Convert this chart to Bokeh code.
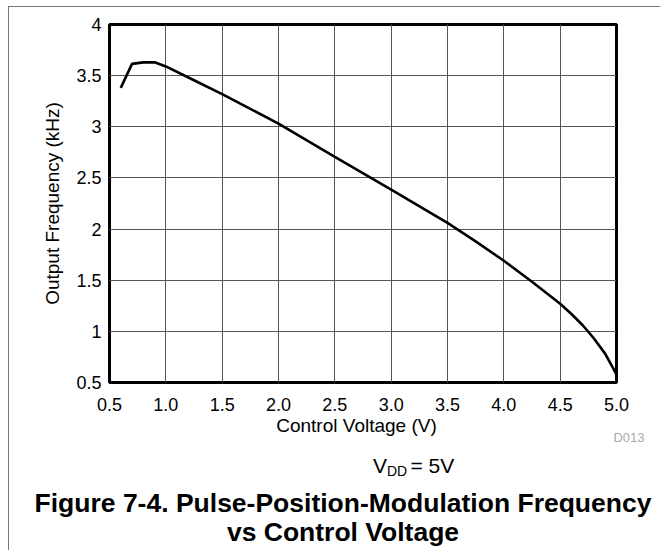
from bokeh.plotting import figure
from bokeh.models import Range1d, FixedTicker, Label
from bokeh.embed import file_html
from bokeh.resources import INLINE

# ---- data ----
control_voltage = [0.6, 0.7, 0.8, 0.9, 1.0, 1.25, 1.5, 1.75, 2.0, 2.5, 3.0, 3.5,
                   3.75, 4.0, 4.25, 4.5, 4.6, 4.7, 4.8, 4.9, 5.0]
output_freq_khz = [3.38, 3.615, 3.63, 3.63, 3.59, 3.455, 3.32, 3.175, 3.03, 2.705,
                   2.385, 2.06, 1.88, 1.69, 1.485, 1.27, 1.17, 1.06, 0.93, 0.78, 0.58]

x_ticks = [0.5, 1.0, 1.5, 2.0, 2.5, 3.0, 3.5, 4.0, 4.5, 5.0]
x_tick_labels = ["0.5", "1.0", "1.5", "2.0", "2.5", "3.0", "3.5", "4.0", "4.5", "5.0"]
y_ticks = [0.5, 1.0, 1.5, 2.0, 2.5, 3.0, 3.5, 4.0]
y_tick_labels = ["0.5", "1", "1.5", "2", "2.5", "3", "3.5", "4"]

x_title = "Control Voltage (V)"
y_title = "Output Frequency (kHz)"
figure_id = "D013"
caption_lines = ["Figure 7-4. Pulse-Position-Modulation Frequency", "vs Control Voltage"]

FONT = "Liberation Sans"
W = 651

# ---- main chart ----
p = figure(output_backend="svg", toolbar_location=None,
           x_range=Range1d(0.5, 5.0), y_range=Range1d(0.5, 4.0),
           frame_width=507, frame_height=358,
           min_border_left=100, min_border_top=17, min_border_right=44,
           min_border_bottom=34)
p.styles = {"position": "absolute", "left": "8px", "top": "6px",
            "border-left": "1px solid #777", "border-top": "1px solid #777"}

p.outline_line_color = "black"
p.outline_line_width = 3

p.xaxis.ticker = FixedTicker(ticks=x_ticks)
p.yaxis.ticker = FixedTicker(ticks=y_ticks)
p.xaxis.major_label_overrides = dict(zip(x_ticks, x_tick_labels))
p.yaxis.major_label_overrides = dict(zip(y_ticks, y_tick_labels))

for ax in (p.xaxis, p.yaxis):
    ax.axis_line_color = None
    ax.major_tick_line_color = None
    ax.minor_tick_line_color = None
    ax.major_tick_out = 0
    ax.major_tick_in = 0
    ax.major_label_text_font = FONT
    ax.major_label_text_font_size = "18px"
    ax.major_label_text_color = "black"
    ax.axis_label_text_font = FONT
    ax.axis_label_text_font_size = "19px"
    ax.axis_label_text_font_style = "normal"
    ax.axis_label_text_color = "black"

p.xaxis.major_label_standoff = 15
p.yaxis.major_label_standoff = 8
p.yaxis.axis_label = y_title
p.yaxis.axis_label_standoff = 10

p.xgrid.ticker = FixedTicker(ticks=x_ticks)
p.ygrid.ticker = FixedTicker(ticks=y_ticks)
p.grid.grid_line_color = "#555555"
p.grid.grid_line_width = 1

p.line(control_voltage, output_freq_khz, line_color="black", line_width=2.6)

# ---- caption panel (pixel coordinates, y downward), placed absolutely ----
TOP = 400
H2 = 150
c = figure(output_backend="svg", toolbar_location=None,
           x_range=Range1d(0, W), y_range=Range1d(H2, 0),
           frame_width=W, frame_height=H2,
           min_border_left=0, min_border_right=0, min_border_top=0, min_border_bottom=0,
           x_axis_type=None, y_axis_type=None)
c.outline_line_color = None
c.grid.visible = False
c.background_fill_color = None
c.border_fill_color = None
c.styles = {"position": "absolute", "left": "8px", "top": f"{TOP}px",
            "border-left": "1px solid #777"}

c.add_layout(Label(x=347, y=25, text=x_title, text_font=FONT, text_font_size="19px",
                   text_color="black", text_align="center", text_baseline="alphabetic"))
c.add_layout(Label(x=635, y=37, text=figure_id, text_font=FONT, text_font_size="13px",
                   text_color="#aaaaaa", text_align="right", text_baseline="alphabetic"))
c.add_layout(Label(x=363.5, y=65, text="V", text_font=FONT, text_font_size="21px",
                   text_color="black", text_align="left", text_baseline="alphabetic"))
c.add_layout(Label(x=377.5, y=70, text="DD", text_font=FONT, text_font_size="14px",
                   text_color="black", text_align="left", text_baseline="alphabetic"))
c.add_layout(Label(x=401, y=65, text="= 5V", text_font=FONT, text_font_size="21px",
                   text_color="black", text_align="left", text_baseline="alphabetic"))
c.add_layout(Label(x=333.5, y=102, text=caption_lines[0], text_font=FONT,
                   text_font_size="26.5px", text_font_style="bold", text_color="black",
                   text_align="center", text_baseline="alphabetic"))
c.add_layout(Label(x=333.5, y=131, text=caption_lines[1], text_font=FONT,
                   text_font_size="26.5px", text_font_style="bold", text_color="black",
                   text_align="center", text_baseline="alphabetic"))

open("out.html", "w").write(file_html([p, c], INLINE))
